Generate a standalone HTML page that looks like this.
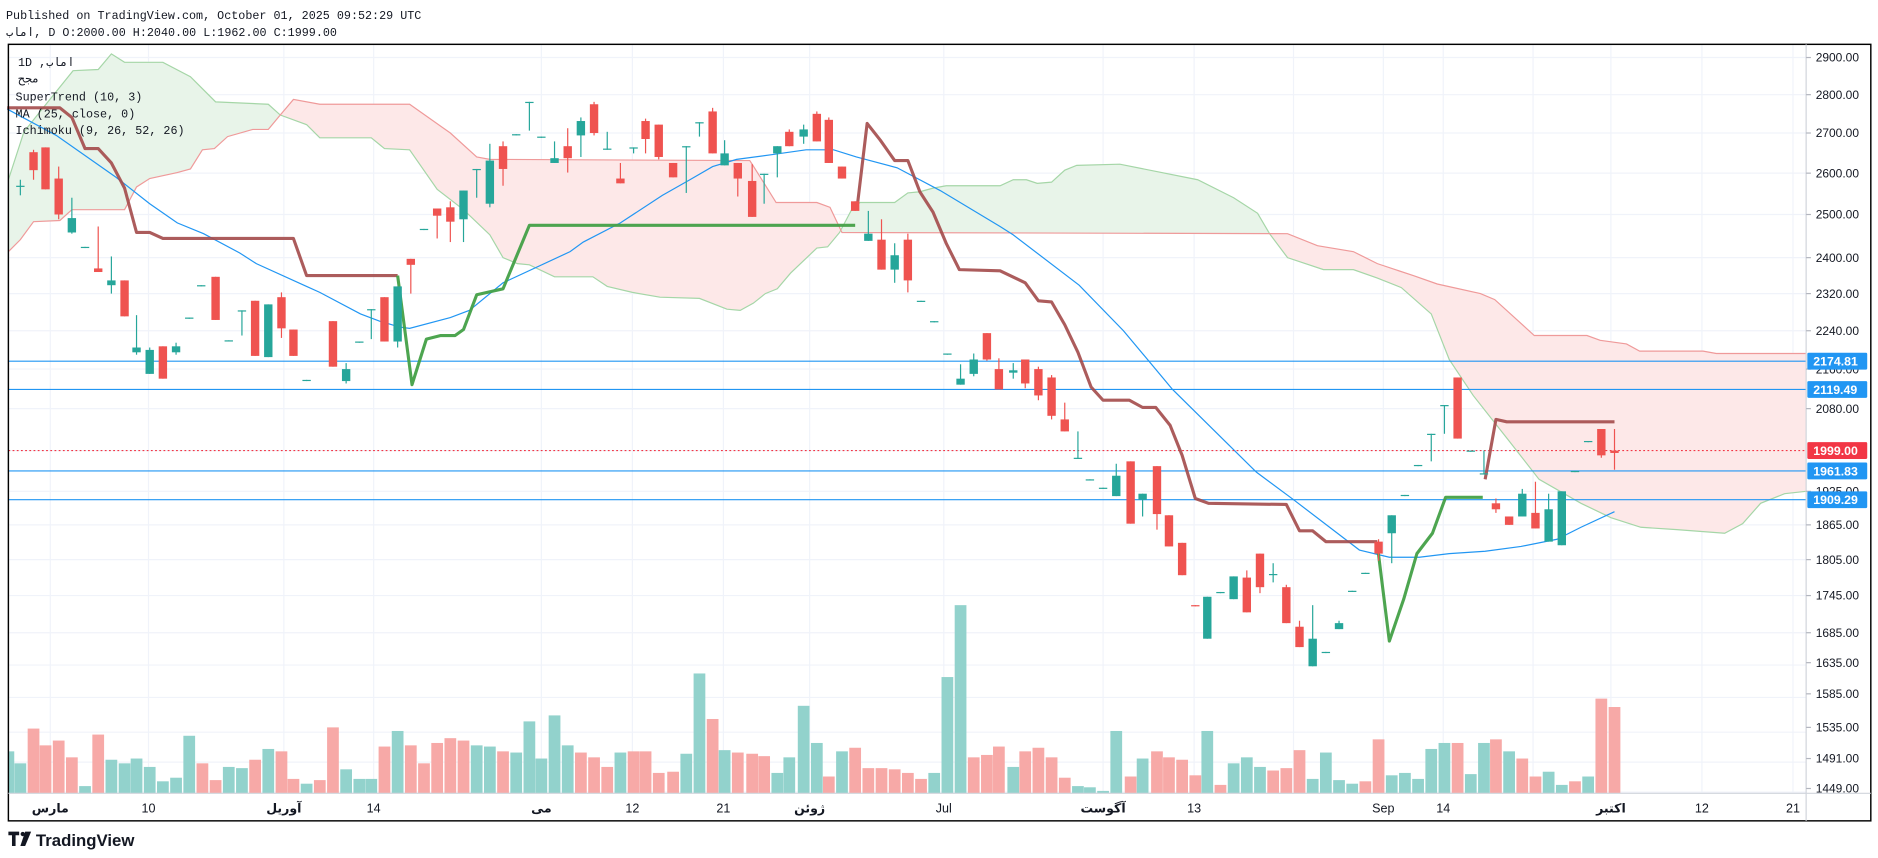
<!DOCTYPE html>
<html><head><meta charset="utf-8"><style>
html,body{margin:0;padding:0;background:#fff;overflow:hidden}
svg{display:block}
</style></head><body>
<svg id="s" xmlns="http://www.w3.org/2000/svg" width="1878" height="858" viewBox="0 0 1568 716" preserveAspectRatio="none"></svg>
<script>
var o=[];
function P(a){return a.map(function(p){return p[0]+','+p[1]}).join(' ')}
o.push('<defs><clipPath id="pc"><rect x="7" y="37" width="1501" height="625"/></clipPath></defs>');
var hy=[48,79,111,144.5,179,215,245,276,308,341,376,410,438,467,497,528,555,582,611,636,661];
hy.forEach(function(y){o.push('<line x1="7" x2="1508" y1="'+y+'" y2="'+y+'" stroke="#f0f3fa" stroke-width="1"/>')});
var vx=[42,124,237,312,452,528,604,676,788,921,997,1080,1155,1205,1280,1345,1421,1497];
vx.forEach(function(x){o.push('<line x1="'+x+'" x2="'+x+'" y1="37" y2="662" stroke="#f0f3fa" stroke-width="1"/>')});
var V=[[7,627,1],[17,637,1],[28,608,0],[38,622,0],[49,618,0],[60,632,0],[71,656,1],[82,613,0],[93,634,1],[104,637,1],[114,633,1],[125,640,1],[136,652,1],[147,649,1],[158,614,1],[169,637,0],[180,651,0],[191,640,1],[202,641,1],[213,634,0],[224,625,1],[235,627,0],[245,650,0],[256,654,1],[267,651,0],[278,607,0],[289,642,1],[300,650,1],[310,650,1],[321,623,0],[332,610,1],[343,622,0],[354,637,0],[365,620,0],[376,616,0],[387,618,0],[398,622,1],[409,623,1],[420,627,0],[431,628,1],[442,602,1],[452,633,1],[463,597,1],[474,622,1],[485,628,0],[496,632,0],[507,640,0],[518,628,1],[529,627,0],[539,627,0],[550,645,0],[562,644,0],[573,629,1],[584,562,1],[595,600,0],[605,626,1],[616,628,0],[628,629,0],[638,631,0],[649,645,1],[659,632,1],[671,589,1],[682,620,1],[692,648,0],[703,627,1],[714,624,0],[725,641,0],[736,641,0],[747,642,0],[758,645,0],[769,650,0],[780,645,1],[791,565,1],[802,505,1],[813,632,0],[824,630,0],[834,623,0],[846,640,1],[856,627,0],[867,624,0],[878,632,0],[889,649,0],[900,656,1],[910,657,1],[921,660,1],[932,610,1],[944,648,0],[954,633,1],[966,627,0],[976,632,0],[987,634,0],[998,647,0],[1008,610,1],[1019,655,0],[1030,637,1],[1041,632,1],[1052,640,1],[1063,643,0],[1074,641,0],[1085,626,0],[1096,650,1],[1107,628,1],[1118,651,1],[1129,654,1],[1140,652,0],[1151,617,0],[1162,647,1],[1173,645,1],[1184,650,1],[1195,625,1],[1206,620,1],[1217,620,0],[1228,646,1],[1239,620,1],[1249,617,0],[1260,627,1],[1271,633,0],[1282,648,0],[1293,644,1],[1304,655,1],[1315,652,0],[1326,648,1],[1337,583,0],[1348,590,0]];
o.push('<g clip-path="url(#pc)">');
V.forEach(function(v){o.push('<rect x="'+(v[0]-4.9)+'" y="'+v[1]+'" width="9.8" height="'+(662-v[1])+'" fill="'+(v[2]?'#92d2cc':'#f7a9a7')+'"/>')});
o.push('</g>');
var A=[[7,150],[20,110],[40,85],[61,59],[82,58],[93,45],[104,52],[136,52],[159,64],[180,85],[224,87],[234,96],[256,104],[267,115],[310,115],[321,124],[342,125],[365,158],[387,175],[409,196],[420,215],[432,220],[442,221],[463,231],[495,231],[507,239],[528,244],[551,248],[584,249],[607,258],[618,259],[629,253],[639,245],[649,241],[660,228],[682,207],[691,206],[701,194],[711,175],[718,169],[747,169],[758,161],[768,160],[779,157],[790,155],[835,155],[846,150],[857,150],[866,153],[878,152],[889,142],[899,138],[935,137],[1000,150],[1030,165],[1050,178],[1060,195],[1075,215],[1105,225],[1130,225],[1150,232],[1170,240],[1195,262],[1210,300],[1230,330],[1260,368],[1285,400],[1320,420],[1345,432],[1370,440],[1400,442],[1440,445],[1455,437],[1470,420],[1490,412],[1508,410]];
var B=[[7,210],[17,200],[28,185],[50,184],[60,175],[104,175],[114,156],[125,149],[148,144],[159,141],[169,125],[179,124],[190,114],[211,108],[224,108],[234,96],[245,83],[267,87],[342,87],[376,111],[398,131],[409,133],[626,134],[628,137],[648,169],[682,169],[693,173],[703,194],[1075,195],[1100,205],[1130,210],[1150,220],[1180,230],[1200,237],[1236,245],[1248,250],[1281,280],[1325,280],[1336,284],[1358,287],[1369,293],[1422,293],[1433,295],[1508,295]];
function interp(L,x){for(var i=0;i<L.length-1;i++){if(x>=L[i][0]&&x<=L[i+1][0]){var t=(x-L[i][0])/(L[i+1][0]-L[i][0]||1);return L[i][1]+t*(L[i+1][1]-L[i][1]);}}return L[L.length-1][1];}
var seg=null,segs=[];
for(var x=7;x<=1508;x+=1){var a=interp(A,x),b=interp(B,x),g=a<b;
 if(!seg||seg.g!==g){if(seg)segs.push(seg);seg={g:g,pts:[]};}
 seg.pts.push([x,a,b]);}
segs.push(seg);
segs.forEach(function(s){var top=s.pts.map(function(p){return [p[0],p[1]]});var bot=s.pts.slice().reverse().map(function(p){return [p[0],p[2]]});
 o.push('<polygon points="'+P(top.concat(bot))+'" fill="'+(s.g?'#e8f4e9':'#fde8e8')+'"/>');});
o.push('<polyline points="'+P(A)+'" fill="none" stroke="#a5d6a7" stroke-width="1"/>');
o.push('<polyline points="'+P(B)+'" fill="none" stroke="#ef9a9a" stroke-width="1"/>');
var M=[[6,91],[47,113],[97,148],[125,170],[148,186],[170,195],[200,211],[214,220],[256,239],[267,244],[301,262],[317,268],[334,273],[342,274],[376,265],[392,259],[420,236],[476,210],[487,202],[518,186],[553,163],[576,150],[595,139],[615,133],[645,129],[673,125],[696,125],[715,131],[749,140],[785,159],[835,189],[846,196],[901,238],[938,276],[979,325],[1049,394],[1080,417],[1135,459],[1160,465],[1185,465],[1210,462],[1240,460],[1270,456],[1300,450],[1320,440],[1348,427]];
o.push('<polyline points="'+P(M)+'" fill="none" stroke="#2196f3" stroke-width="1"/>');
[301.4,325,393,417].forEach(function(y){o.push('<line x1="7" x2="1508" y1="'+y+'" y2="'+y+'" stroke="#2196f3" stroke-width="1"/>')});
o.push('<line x1="7" x2="1508" y1="376" y2="376" stroke="#f23645" stroke-width="1" stroke-dasharray="1.5,2"/>');
var R1=[[6,90],[50,90],[60,98],[71,124],[82,124],[93,136],[104,157],[114,194],[125,194],[136,199],[245,199],[256,230],[332,230]];
var G1=[[332,230],[344,321],[356,283],[368,280],[380,280],[387,275],[398,246],[420,241],[442,188],[714,188]];
var R2=[[716,170],[724,103],[735,117],[747,134],[758,134],[768,160],[779,177],[790,203],[801,225],[835,226],[856,236],[867,251],[878,252],[889,271],[900,294],[911,323],[921,334],[943,334],[954,340],[965,340],[977,355],[987,380],[998,416],[1009,420],[1074,421],[1085,443],[1096,443],[1107,452],[1150,452]];
var G2=[[1150,455],[1160,535],[1172,500],[1183,462],[1196,445],[1207,415],[1238,415]];
var R3=[[1240,400],[1249,350],[1258,352],[1348,352]];
[R1,R2,R3].forEach(function(l){o.push('<polyline points="'+P(l)+'" fill="none" stroke="#a34a4a" stroke-opacity="0.9" stroke-width="2.6" stroke-linejoin="round"/>')});
[G1,G2].forEach(function(l){o.push('<polyline points="'+P(l)+'" fill="none" stroke="#43a047" stroke-opacity="0.95" stroke-width="2.6" stroke-linejoin="round"/>')});
var C=[[17,155,156,150,163,1],[28,127,142,125,150,0],[38,123,158,123,158,0],[49,149,179,139,183,0],[60,182,194,165,195,1],[71,206,207,206,207,1],[82,224,227,189,227,0],[93,234,238,214,245,1],[104,234,264,234,264,0],[114,290,294,263,296,1],[125,292,312,290,312,1],[136,289,316,289,316,0],[147,289,294,286,296,1],[158,265,266,265,266,1],[168,238,239,238,239,1],[180,231,267,231,267,0],[191,284,285,284,285,1],[202,259,260,259,280,1],[213,251,297,251,297,0],[224,254,298,254,298,1],[235,248,274,244,282,0],[245,275,297,275,297,0],[256,317,318,317,318,1],[278,268,306,268,306,0],[289,308,318,303,320,1],[300,285,286,285,286,1],[310,258,259,258,283,1],[321,248,285,248,285,0],[332,239,285,239,290,1],[343,216,221,216,245,0],[354,191,192,191,192,1],[365,174,180,174,199,0],[376,173,185,168,202,0],[387,159,183,159,202,1],[398,141,142,141,165,1],[409,134,170,120,173,1],[420,122,141,118,155,0],[431,112,113,112,113,1],[442,85,86,85,109,1],[452,114,115,114,115,1],[463,132,136,118,136,1],[474,122,132,107,144,0],[485,101,113,98,131,1],[496,87,111,85,113,0],[507,124,125,110,125,1],[518,149,153,136,153,0],[529,123,124,123,128,1],[539,101,116,99,128,0],[550,104,131,104,133,0],[562,136,148,136,148,0],[573,122,123,122,161,1],[584,102,103,102,114,1],[595,93,128,90,128,0],[605,128,138,117,138,1],[616,136,149,136,164,0],[628,151,181,137,181,0],[638,145,146,145,170,1],[649,122,128,122,148,1],[659,110,122,108,122,0],[671,108,114,104,120,1],[682,95,118,93,118,0],[692,100,136,98,136,0],[703,139,149,139,149,0],[714,168,176,168,176,0],[725,195,201,176,201,1],[736,200,225,183,225,0],[747,213,225,203,236,1],[758,200,234,195,244,0],[769,251,252,251,252,1],[780,268,269,268,269,1],[791,295,296,295,296,1],[802,316,321,304,321,1],[813,300,312,295,314,1],[824,278,300,278,301,0],[834,308,325,299,325,0],[846,309,311,303,316,1],[856,300,320,300,324,0],[867,308,330,306,334,0],[878,315,347,313,350,0],[889,350,360,336,360,0],[900,382,383,360,383,1],[910,400,401,400,401,1],[921,407,408,407,408,1],[932,397,414,387,414,1],[944,385,437,385,437,0],[954,412,417,412,431,1],[966,389,429,389,442,0],[976,430,456,430,456,0],[987,453,480,453,480,0],[998,505,506,505,506,0],[1008,498,533,498,533,1],[1019,494,495,494,495,1],[1030,481,500,481,500,1],[1041,482,511,476,511,0],[1052,462,490,462,495,0],[1063,479,480,470,486,1],[1074,490,520,488,520,0],[1085,523,540,518,540,0],[1096,533,556,505,556,1],[1107,544,545,544,545,1],[1118,520,525,518,525,1],[1129,493,494,493,494,1],[1140,478,479,478,479,1],[1151,452,462,450,468,0],[1162,430,445,430,470,1],[1173,413,414,413,414,1],[1184,388,389,388,389,1],[1195,362,363,362,385,1],[1206,338,339,338,362,1],[1217,315,366,315,366,0],[1228,376,377,376,377,1],[1239,395,396,376,396,1],[1249,420,425,416,428,0],[1260,431,438,431,438,0],[1271,412,431,408,431,1],[1282,428,441,402,441,0],[1293,425,452,412,452,1],[1304,410,455,410,455,1],[1315,393,394,393,394,1],[1326,368,369,368,369,1],[1337,358,380,358,382,0],[1348,376,378,358,392,0]];
C.forEach(function(c){var col=c[5]?'#26a69a':'#ef5350';
 o.push('<line x1="'+c[0]+'" x2="'+c[0]+'" y1="'+c[3]+'" y2="'+c[4]+'" stroke="'+col+'" stroke-width="1"/>');
 o.push('<rect x="'+(c[0]-3.5)+'" y="'+c[1]+'" width="7" height="'+Math.max(1,c[2]-c[1])+'" fill="'+col+'"/>');});
o.push('<rect x="7" y="37" width="1555" height="648" fill="none" stroke="#000" stroke-width="1.2"/>');
o.push('<line x1="1508" x2="1508" y1="37" y2="685" stroke="#d1d4dc" stroke-width="1"/>');
o.push('<line x1="7" x2="1562" y1="662" y2="662" stroke="#d1d4dc" stroke-width="1"/>');
var labels=[[48,'2900.00'],[79,'2800.00'],[111,'2700.00'],[144.5,'2600.00'],[179,'2500.00'],[215,'2400.00'],[245,'2320.00'],[276,'2240.00'],[308,'2160.00'],[341,'2080.00'],[410,'1925.00'],[438,'1865.00'],[467,'1805.00'],[497,'1745.00'],[528,'1685.00'],[553,'1635.00'],[579,'1585.00'],[607,'1535.00'],[633,'1491.00'],[658,'1449.00']];
labels.forEach(function(l){o.push('<line x1="1508" x2="1512" y1="'+l[0]+'" y2="'+l[0]+'" stroke="#b2b5be"/><text x="1516" y="'+(l[0]+3.5)+'" font-family="Liberation Sans, sans-serif" font-size="10" fill="#131722">'+l[1]+'</text>')});
[[301.4,'2174.81','#2196f3'],[325,'2119.49','#2196f3'],[376,'1999.00','#f23645'],[393,'1961.83','#2196f3'],[417,'1909.29','#2196f3']].forEach(function(l){
 o.push('<rect x="1509" y="'+(l[0]-7)+'" width="50" height="14" rx="1" fill="'+l[2]+'"/><text x="1514" y="'+(l[0]+3.8)+'" font-family="Liberation Sans, sans-serif" font-size="10.3" font-weight="bold" fill="#fff">'+l[1]+'</text>')});
var tl=[[42,'مارس'],[124,'10'],[237,'آوریل'],[312,'14'],[452,'می'],[528,'12'],[604,'21'],[676,'ژوئن'],[788,'Jul'],[921,'آگوست'],[997,'13'],[1155,'Sep'],[1205,'14'],[1345,'اکتبر'],[1421,'12'],[1497,'21']];
tl.forEach(function(t){o.push('<text x="'+t[0]+'" y="678" text-anchor="middle" font-family="Liberation Sans, Noto Sans CJK SC, DejaVu Sans, sans-serif" font-size="10.5" font-weight="'+(/[0-9A-Za-z]/.test(t[1])?'normal':'bold')+'" fill="#131722">'+t[1]+'</text>')});
var mf='font-family="Liberation Mono, DejaVu Sans Mono, monospace" font-size="9.8" fill="#131722"';
o.push('<text x="5" y="16" '+mf+'>Published on TradingView.com, October 01, 2025 09:52:29 UTC</text>');
o.push('<text x="5" y="30" '+mf+'>اماب, D O:2000.00 H:2040.00 L:1962.00 C:1999.00</text>');
o.push('<text x="15" y="55" '+mf+'>1D ,اماب</text>');
o.push('<text x="15" y="69" '+mf+'>مجح</text>');
o.push('<text x="13" y="84" '+mf+'>SuperTrend (10, 3)</text>');
o.push('<text x="13" y="98" '+mf+'>MA (25, close, 0)</text>');
o.push('<text x="13" y="112" '+mf+'>Ichimoku (9, 26, 52, 26)</text>');
o.push('<path d="M7 694 h9 v3 h-3 v9 h-3 v-9 h-3z" fill="#131722"/><circle cx="19" cy="696" r="1.8" fill="#131722"/><path d="M21 694 h5 l-5 12 h-4z" fill="#131722"/>');
o.push('<text x="30" y="706" font-family="Liberation Sans, sans-serif" font-size="14" font-weight="bold" fill="#131722">TradingView</text>');
document.getElementById('s').innerHTML=o.join('');
</script>
</body></html>
